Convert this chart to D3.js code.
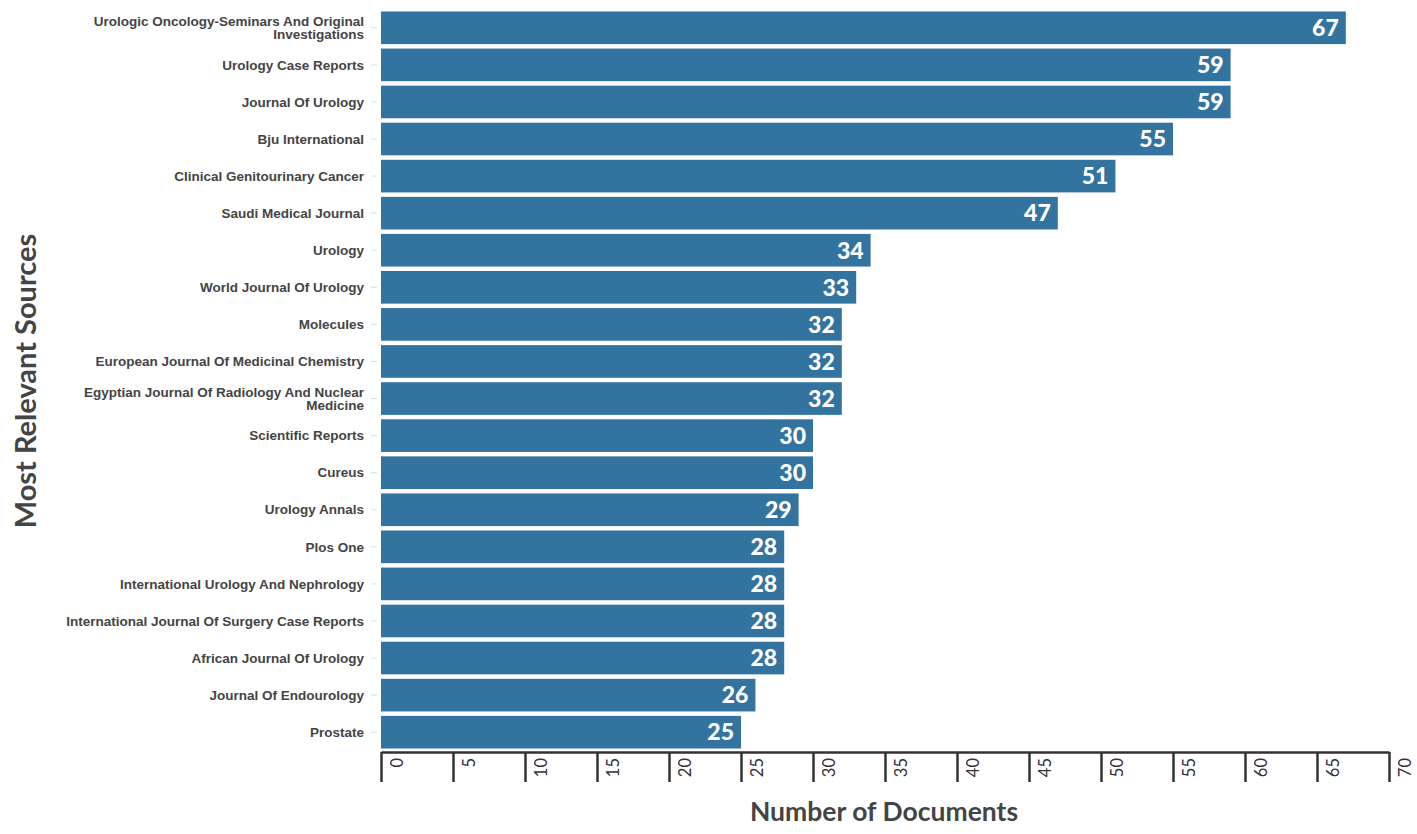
<!DOCTYPE html>
<html>
<head>
<meta charset="utf-8">
<script src="https://cdn.jsdelivr.net/npm/d3@7"></script>
<style>
  html, body { margin: 0; padding: 0; background: #fff; }
  #chart { width: 1417px; height: 834px; }
</style>
</head>
<body>
<div id="chart"></div>
<script>
// Most relevant sources, number of documents
const sources = [
  'Urologic Oncology-Seminars And Original|Investigations',
  'Urology Case Reports',
  'Journal Of Urology',
  'Bju International',
  'Clinical Genitourinary Cancer',
  'Saudi Medical Journal',
  'Urology',
  'World Journal Of Urology',
  'Molecules',
  'European Journal Of Medicinal Chemistry',
  'Egyptian Journal Of Radiology And Nuclear|Medicine',
  'Scientific Reports',
  'Cureus',
  'Urology Annals',
  'Plos One',
  'International Urology And Nephrology',
  'International Journal Of Surgery Case Reports',
  'African Journal Of Urology',
  'Journal Of Endourology',
  'Prostate'
];
const documents = [67, 59, 59, 55, 51, 47, 34, 33, 32, 32, 32, 30, 30, 29, 28, 28, 28, 28, 26, 25];
const xTicks = [0, 5, 10, 15, 20, 25, 30, 35, 40, 45, 50, 55, 60, 65, 70];

const width = 1417, height = 834;
const margin = { top: 10, right: 28, bottom: 84, left: 381 };
const fontFamily = 'Lato, "Open Sans", sans-serif';

const svg = d3.select('#chart').append('svg')
  .attr('width', width)
  .attr('height', height)
  .style('font-family', fontFamily);

const x = d3.scaleLinear()
  .domain([0, 70])
  .range([margin.left, width - margin.right]);

const y = d3.scaleBand()
  .domain(sources)
  .range([margin.top, height - margin.bottom])
  .paddingInner(0.12)
  .paddingOuter(0.04);

// bars
svg.append('g').selectAll('rect')
  .data(sources)
  .join('rect')
  .attr('x', x(0))
  .attr('y', d => y(d))
  .attr('width', (d, i) => x(documents[i]) - x(0))
  .attr('height', y.bandwidth())
  .attr('fill', '#33739f');

// value labels
svg.append('g').selectAll('text')
  .data(sources)
  .join('text')
  .attr('x', (d, i) => x(documents[i]) - 7)
  .attr('y', d => y(d) + y.bandwidth() / 2)
  .attr('dy', '0.36em')
  .attr('text-anchor', 'end')
  .attr('fill', '#fff')
  .attr('font-size', 23)
  .attr('font-weight', 900)
  .text((d, i) => documents[i]);

// y axis (category labels)
const yAxis = svg.append('g')
  .attr('transform', `translate(${margin.left - 4},0)`)
  .call(d3.axisLeft(y).tickSize(6).tickFormat(''));
yAxis.select('.domain').remove();
yAxis.selectAll('.tick line').attr('stroke', '#ddd');
yAxis.selectAll('.tick').each(function(d) {
  const lines = d.split('|');
  const t = d3.select(this).append('text')
    .attr('x', -13)
    .attr('text-anchor', 'end')
    .attr('fill', '#444')
    .attr('font-size', 13.5)
    .attr('font-weight', 700);
  const lh = 12.5;
  lines.forEach((ln, k) => {
    t.append('tspan')
      .attr('x', -13)
      .attr('y', (k - (lines.length - 1) / 2) * lh)
      .attr('dy', '0.35em')
      .text(ln);
  });
});

// x axis
const xAxisG = svg.append('g')
  .attr('transform', `translate(0,${height - margin.bottom + 2})`)
  .call(d3.axisBottom(x).tickValues(xTicks).tickSize(30).tickSizeOuter(0).tickFormat(d3.format('d')));
xAxisG.select('.domain').attr('stroke', '#333').attr('stroke-width', 2.5);
xAxisG.selectAll('.tick line').attr('stroke', '#333').attr('stroke-width', 2.5);
xAxisG.selectAll('.tick text')
  .attr('transform', 'rotate(-90)')
  .attr('x', -6)
  .attr('y', 16)
  .attr('dy', '0.35em')
  .attr('text-anchor', 'end')
  .attr('font-family', fontFamily)
  .attr('font-size', 16.5)
  .attr('font-weight', 400)
  .attr('fill', '#333');

// axis titles
svg.append('text')
  .attr('x', 884)
  .attr('y', 821)
  .attr('text-anchor', 'middle')
  .attr('fill', '#444')
  .attr('font-size', 26.5)
  .attr('font-weight', 700)
  .text('Number of Documents');

svg.append('text')
  .attr('transform', 'translate(36,381) rotate(-90)')
  .attr('text-anchor', 'middle')
  .attr('fill', '#444')
  .attr('font-size', 29)
  .attr('font-weight', 700)
  .text('Most Relevant Sources');
</script>
</body>
</html>
